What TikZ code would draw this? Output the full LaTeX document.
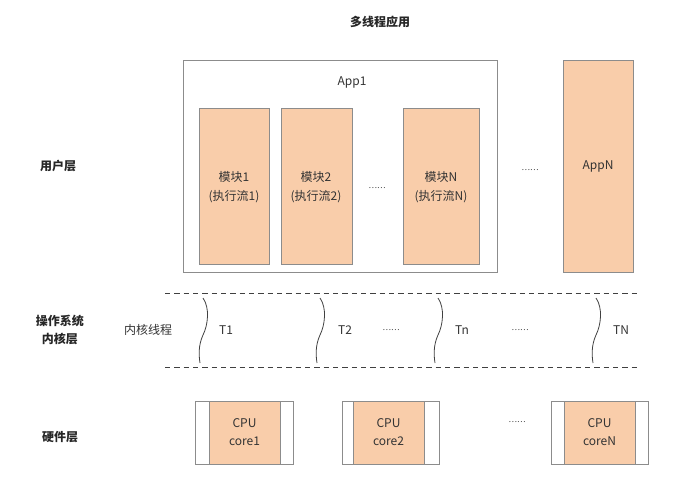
\documentclass[tikz,border=0pt]{standalone}
\usepackage{fontspec}
\setmainfont{Noto Sans CJK SC}
\begin{document}
\begin{tikzpicture}[x=0.75pt,y=-0.75pt,
  every node/.style={text=black!80,font=\fontsize{9}{14}\selectfont,align=center,inner sep=0pt},
  frame/.style={draw=black!45,line width=0.6pt,fill=white},
  mod/.style={draw=black!45,line width=0.6pt,fill=peach},
  lbl/.style={font=\fontsize{9}{13}\selectfont\bfseries,text=black!85},
  dots/.style={font=\fontsize{6}{7}\selectfont},
  wave/.style={draw=black!75,line width=0.6pt},
  sep/.style={draw=black!75,dashed,dash pattern=on 4pt off 3pt,line width=0.6pt}]
\definecolor{peach}{HTML}{F9CDAA}
\useasboundingbox (0,0) rectangle (682,490);
% title
\node[lbl] (title) at (380,22) {多线程应用};
% layer labels
\node[lbl] (user) at (58,166) {用户层};
\node[lbl,align=center] (kern) at (60,330) {操作系统\\内核层};
\node[lbl] (hw) at (60,437) {硬件层};
% App1
\draw[frame] (183,60) rectangle (497,272);
\node (app1) at (352,82) {App1};
\draw[mod] (199,108) rectangle (269,264);
\node (m1) at (234,187) {模块1\\(执行流1)};
\draw[mod] (281,108) rectangle (352,264);
\node (m2) at (316,187) {模块2\\(执行流2)};
\draw[mod] (403,108) rectangle (479,264);
\node (mn) at (441,187) {模块N\\(执行流N)};
\node[dots] (d1) at (377,188) {……};
\node[dots] (d2) at (530,170) {……};
% AppN
\draw[mod] (563,60) rectangle (633,272);
\node (appn) at (598,166) {AppN};
% kernel layer
\coordinate (l1a) at (165,293); \coordinate (l1b) at (637,293);
\coordinate (l2a) at (165,367); \coordinate (l2b) at (637,367);
\draw[sep] (l1a) -- (l1b);
\draw[sep] (l2a) -- (l2b);
\node (kt) at (148,330) {内核线程};
\foreach \x in {203,320,438,596}{
  \draw[wave] (\x,298) .. controls (\x+7,308) and (\x+5,325) .. (\x,335) .. controls (\x-5,346) and (\x-4,356) .. (\x-3,363);
}
\node (t1) at (226,330) {T1};
\node (t2) at (345,330) {T2};
\node[dots] (d3) at (391,330) {……};
\node (tn) at (462,330) {Tn};
\node[dots] (d4) at (520,330) {……};
\node (tN) at (621,330) {TN};
% hardware
\foreach \a/\b/\c/\d/\t [count=\i] in {195/209/280/293/core1,342/353/424/439/core2,551/564/635/648/coreN}{
  \draw[frame] (\a,401) rectangle (\d,464);
  \draw[mod] (\b,401) rectangle (\c,464);
  \node (cpu\i) at ({(\b+\c)/2},432) {CPU\\\t};
}
\node[dots] (d5) at (517,422) {……};
\end{tikzpicture}
\end{document}
